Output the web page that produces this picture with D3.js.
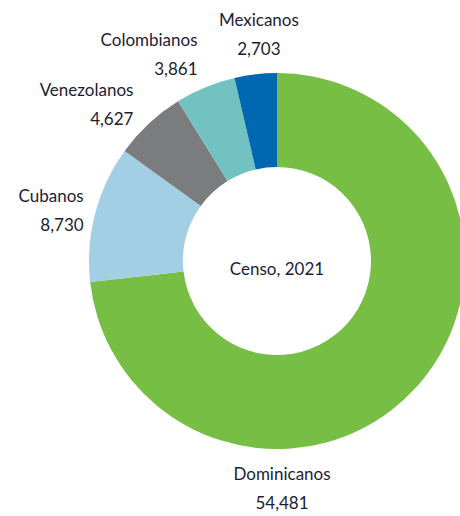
<!DOCTYPE html>
<html>
<head>
<meta charset="utf-8">
<script src="https://cdn.jsdelivr.net/npm/d3@7"></script>
<style>
  body { margin: 0; background: #fff; }
  svg text { font-family: Lato, "Open Sans", sans-serif; fill: #1c1c36; }
</style>
</head>
<body>
<div id="chart"></div>
<script>
var categories = ["Dominicanos", "Cubanos", "Venezolanos", "Colombianos", "Mexicanos"];
var values = [54481, 8730, 4627, 3861, 2703];
var colors = ["#76bf44", "#a2cfe3", "#7b7c7e", "#72c2c2", "#0068b1"];
var centerLabel = "Censo, 2021";

function init() {
    var w = 460;
    var h = 516;
    var cx = 277;
    var cy = 261;
    var outer = 188;
    var inner = 94;

    var data = categories.map(function(c, i) {
        return { name: c, value: values[i], color: colors[i] };
    });

    var pie = d3.pie()
                .sort(null)
                .value(function(d) { return d.value; });

    var arc = d3.arc()
                .innerRadius(inner)
                .outerRadius(outer);

    var svg = d3.select("#chart")
                .append("svg")
                .attr("width", w)
                .attr("height", h);

    var g = svg.append("g")
               .attr("transform", "translate(" + cx + "," + cy + ")");

    var arcs = pie(data);

    g.selectAll("path")
     .data(arcs)
     .enter()
     .append("path")
     .attr("d", arc)
     .attr("fill", function(d) { return d.data.color; });

    g.append("text")
     .attr("text-anchor", "middle")
     .attr("y", 14)
     .style("font-size", "17px")
     .text(centerLabel);

    var fmt = d3.format(",");
    var maxVal = d3.max(values);

    g.selectAll(".label")
     .data(arcs)
     .enter()
     .append("text")
     .attr("class", "label")
     .style("font-size", "17px")
     .each(function(d) {
         // biggest slice gets its label under the ring
         var big = d.data.value === maxVal;
         var a = big ? Math.PI : (d.startAngle + d.endAngle) / 2;
         var c = Math.cos(a);
         var r = outer + 10 + 30 * c * c;
         var x = r * Math.sin(a) + (big ? 5 : 8 * c * c * c * c);
         var y = -r * c;
         var anchor = Math.abs(Math.sin(a)) < 0.15 ? "middle" : (x < 0 ? "end" : "start");
         var t = d3.select(this).attr("text-anchor", anchor);
         t.append("tspan").attr("x", x).attr("y", y - 14.5).attr("dy", "0.35em").text(d.data.name);
         t.append("tspan").attr("x", x).attr("y", y + 14.5).attr("dy", "0.35em").text(fmt(d.data.value));
     });
}

window.onload = init;
</script>
</body>
</html>
